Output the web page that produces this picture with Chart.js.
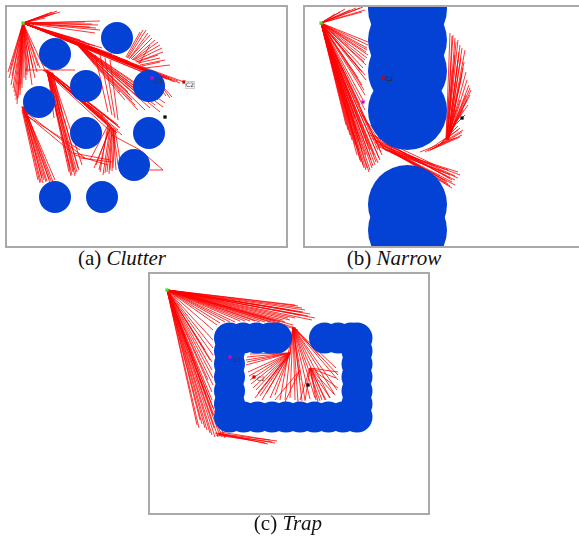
<!DOCTYPE html>
<html>
<head>
<meta charset="utf-8">
<script src="https://cdn.jsdelivr.net/npm/chart.js@4.4.0/dist/chart.umd.min.js"></script>
<style>
    body { margin: 0; width: 579px; height: 537px; overflow: hidden; background: #fff; position: relative; }
    .painel { position: absolute; border: 2px solid #a9a9a9; background: #fff; }
    .painel canvas { display: block; }
    .legenda { position: absolute; width: 200px; text-align: center; font-family: "Liberation Serif", serif; font-size: 21px; line-height: 21px; color: #111; }
    .rotulo { position: absolute; font-family: "DejaVu Sans", sans-serif; font-size: 6px; line-height: 6px; color: #333; }
</style>
</head>
<body>
<div class="painel" style="left:5px;top:5px;"><canvas id="graficoClutter" width="279" height="239"></canvas></div>
<div class="painel" style="left:303px;top:5px;"><canvas id="graficoNarrow" width="279" height="239"></canvas></div>
<div class="painel" style="left:148px;top:272px;"><canvas id="graficoTrap" width="278" height="239"></canvas></div>

<div class="legenda" style="left:22px;top:248px;">(a) <i>Clutter</i></div>
<div class="legenda" style="left:294px;top:248px;">(b) <i>Narrow</i></div>
<div class="legenda" style="left:188px;top:513px;">(c) <i>Trap</i></div>

<span class="rotulo" style="left:154px;top:78px;">C1</span>
<span class="rotulo" style="left:185px;top:81px;background:#f4f4f4;border:1px solid #ccc;">C2</span>
<span class="rotulo" style="left:385px;top:76px;color:#222;">C2</span>
<span class="rotulo" style="left:233px;top:357px;">C1</span>
<span class="rotulo" style="left:257px;top:376px;">C2</span>

<script>
// (a) Clutter - obstaculos, arvore e marcos (coordenadas da pagina)
const obstaculosClutter = [[117,38],[55,54],[86,86],[149,86],[39,102],[86,133],[149,133],[134,165],[55,197],[102,197]];
const inicioClutter = [23,23];
const folhasClutter = [
    [57,11],[55,13],[50,15],[45,18],[100,21],[98,25],[90,27],[100,30],[95,33],
    [52,12],[48,14],[60,12],[85,22],[92,24],[96,28],
    [8,72],[9,78],[11,85],[14,92],[16,100],[17,104],[20,95],[22,88],[26,80],[28,72],[32,85],[35,78],
    [10,70],[12,76],[13,88],[15,96],[18,98],[19,90],[21,84],[24,78],[27,75],[33,68],[38,66],
    [40,68],[45,70],[37,72],[30,70],
    [100,50],[110,55],[120,58],[130,62],[135,65],[140,68],[145,70],[150,72],[155,73],[160,75],
    [165,77],[170,78],[184,82],[175,82],[163,80],[157,78],[125,62],[115,58],[90,45],[80,40],
    [105,52],[112,54],[118,57],[122,60],[128,61],[132,64],[138,66],[143,69],[148,71],[153,74],
    [158,76],[162,78],[167,79],[172,80],[178,81],[180,83],[95,46],[85,42],[102,48]
];
const ramosClutter = [
    [128,58,146,30],[130,58,150,35],[132,60,155,40],[134,60,160,45],[136,62,163,52],[138,63,160,58],
    [126,57,140,32],[140,65,165,60],[145,68,170,65],
    [127,58,143,30],[129,59,148,33],[131,59,152,38],[133,60,158,42],[135,61,162,48],[137,62,158,55],
    [139,64,150,45],[142,66,160,62],
    [150,72,172,97],[152,73,170,98],[148,72,166,96],
    [75,42,163,107],[75,42,150,100],[75,42,140,95],[75,42,135,105],[75,42,130,95],[75,42,125,100],
    [75,42,120,92],[75,42,145,110],[75,42,160,112],
    [75,42,155,105],[75,42,142,100],[75,42,132,100],[75,42,128,92],[75,42,150,108],[75,42,158,100],
    [75,42,138,110],[78,44,165,103],[78,44,148,96],
    [100,55,112,115],[105,58,115,118],[95,55,108,112],[110,60,118,120],
    [45,70,110,125],[45,70,112,128],[45,70,115,132],[47,72,118,130],[45,70,108,121],[47,70,120,128],
    [50,72,118,125],[50,72,113,122],[43,70,105,118],[48,72,122,135],
    [45,70,106,122],[46,70,111,126],[46,71,114,130],[47,71,117,133],[48,71,119,127],[49,72,116,124],
    [44,70,103,116],[46,72,109,130],
    [25,70,75,70],
    [50,72,57,116],[52,72,60,114],[48,72,54,118],[53,73,62,112],
    [22,106,40,183],[23,106,43,183],[24,107,46,182],[24,108,50,183],[25,109,53,182],[25,110,55,180],
    [23,108,42,178],[22,110,38,180],
    [23,107,44,180],[24,107,47,181],[25,108,51,181],[24,109,49,179],[22,107,41,182],
    [23,112,75,155],[24,114,80,150],[23,110,85,158],
    [47,72,72,175],[48,72,75,176],[49,72,77,172],[50,73,79,170],[47,72,70,168],[52,74,82,165],
    [48,72,73,172],[49,73,76,174],[50,72,74,170],[51,73,78,168],[48,72,71,176],[47,71,69,172],
    [108,125,100,172],[110,127,103,175],[112,128,107,172],[113,128,110,170],[115,130,113,168],
    [110,128,96,165],[108,125,90,160],[113,128,118,165],[115,130,120,160],
    [109,126,99,170],[111,127,105,173],[112,128,109,174],[114,129,112,171],[111,127,94,168],[113,129,116,170],
    [73,153,110,160],[75,155,108,165],[80,158,112,162],
    [112,135,140,150],[140,150,163,170],[148,170,163,170]
];
const marcosClutter = [[23,23],[152,78],[184,82],[165,117]];

// (b) Narrow
const obstaculosNarrow = [[407.5,9],[407.5,40],[407.5,71],[407.5,110.5],[407.5,204.5],[407.5,230],[407.5,262]];
const inicioNarrow = [321,23];
const folhasNarrow = [
    [363,7],[360,8],[356,8],[350,10],[345,9],[340,12],[335,14],[362,12],[365,10],
    [368,45],[367,50],[368,55],[365,60],[366,65],[360,70],[365,75],[358,78],[362,85],[363,100],
    [360,105],[365,110],
    [368,42],[367,48],[366,52],[367,58],[364,62],[363,68],[362,72],[366,80],[364,90],[365,95],
    [360,160],[363,165],[366,170],[369,172],[372,168],[375,165],[378,163],[380,160],[382,155],
    [378,150],[370,150],[358,150],[355,145],[352,140],[360,140],[368,145],[374,155],[348,130],[356,130],
    [361,162],[364,168],[367,168],[370,170],[373,166],[376,162],[379,158],[381,152],[357,155],
    [362,150],[366,155],[371,160],[350,135],[354,138],[358,142],[346,125],[350,120],[355,118]
];
const ramosNarrow = [
    [362,115,385,150],[365,120,395,152],[360,110,380,148],
    [370,135,450,178],[372,138,455,176],[375,142,452,182],[378,145,445,180],[380,147,440,176],
    [382,148,458,172],[385,150,448,170],[388,150,430,172],[375,140,420,160],[372,135,435,165],
    [380,145,460,175],[390,152,455,185],[395,153,450,186],
    [368,132,452,180],[373,139,447,182],[376,141,455,180],[379,144,458,178],[383,148,450,175],
    [386,150,444,172],[392,152,452,188],[398,154,448,184],
    [430,150,462,135],[425,152,458,130],[420,152,455,138],[435,148,460,128],[440,145,462,132],
    [428,151,460,137],[432,149,463,130],[438,146,458,126],
    [446,140,450,33],[446,140,453,35],[447,140,455,38],[447,140,458,40],[448,140,460,45],
    [448,140,462,48],[448,140,465,50],[448,138,458,60],[449,138,463,68],[449,138,467,80],
    [450,135,470,88],[450,135,471,90],[449,136,466,95],[448,136,460,100],[447,138,456,110],
    [447,138,452,70],[447,138,455,55],[448,135,462,75],[449,132,468,105],[450,130,465,115],
    [447,139,452,36],[447,139,456,42],[448,139,459,52],[448,138,461,58],[449,137,464,62],
    [449,136,466,72],[450,134,469,85],[449,134,467,100],[448,137,463,110],[450,132,470,95]
];
const marcosNarrow = [[321,23],[363,102],[383,78],[462,118]];

// (c) Trap
const obstaculosTrap = [
    [229.5,338],[243,338],[256.5,338],[270,338],[276.5,338],
    [324.5,338],[338,338],[351,338],[357,338],
    [229.5,351],[229.5,364],[229.5,377],[229.5,391],[229.5,404],[229.5,417],
    [357,351],[357,364],[357,377],[357,391],[357,404],[357,417],
    [243.5,417],[257.5,417],[272,417],[286,417],[300,417],[314.5,417],[328.5,417],[343,417]
];
const inicioTrap = [167,290];
const folhasTrap = [
    [302,308],[305,310],[310,314],[315,318],[312,320],[300,315],[295,318],[290,320],[285,322],
    [280,322],[270,322],[260,322],[250,321],[240,321],[230,322],[220,323],[213,330],[295,305],
    [290,310],[293,325],[296,328],[298,330],
    [298,306],[303,312],[308,316],[300,312],[288,318],[283,320],[275,321],[265,322],[255,321],
    [245,321],[235,322],[225,322],[217,325],
    [197,425],[200,420],[205,428],[210,433],[215,437],[220,436],[225,438],[213,415],[212,400],
    [213,385],[212,370],[213,355],[213,340],[205,350],[208,380],[214,428],
    [199,428],[202,424],[207,430],[212,435],[218,437],[222,437],[213,408],[212,392],[213,378],
    [212,362],[213,348],[210,360],[206,395]
];
const ramosTrap = [
    [215,433,277,441],[218,434,275,443],[220,432,270,440],[222,435,265,443],[216,435,250,440],
    [217,434,272,442],[219,433,268,444],
    [293,327,298,402],[293,327,305,400],[293,327,315,398],[293,327,325,400],[293,327,335,395],
    [293,327,338,380],[293,327,336,368],[293,327,290,398],[293,327,280,400],[293,327,300,380],
    [293,327,302,401],[293,327,310,399],[293,327,320,401],[293,327,330,398],[293,327,337,390],
    [293,327,338,375],[293,327,285,400],[293,327,295,400],
    [293,327,290,353],[295,328,320,356],
    [290,353,247,357],[290,353,246,365],[290,353,248,372],[290,353,250,380],[290,353,253,388],
    [290,353,258,393],[290,353,265,385],[290,353,250,354],[290,353,255,398],[290,353,262,400],
    [290,353,270,398],[290,353,246,360],
    [290,353,247,362],[290,353,249,376],[290,353,251,384],[290,353,256,390],[290,353,260,396],
    [290,353,267,392],[290,353,275,395],
    [310,368,316,400],[310,368,322,400],[310,368,300,400],[310,368,338,372],[310,368,338,388],
    [310,368,330,398],[300,370,275,400],[300,370,285,402],
    [310,368,318,402],[310,368,326,400],[310,368,336,378],[310,368,305,401],[310,368,334,394]
];
const marcosTrap = [[167,290],[230,357],[254,377],[308,385]];

const corObstaculo = '#0342d4';
const corArvore = 'rgba(255,0,0,0.8)';
const coresMarcos = ['#46e02a', '#d000d0', '#d80000', '#000000'];

function montarSegmentos(inicio, folhas, ramos) {
    const segmentos = [];
    folhas.forEach(f => {
        segmentos.push({x: inicio[0], y: inicio[1]}, {x: f[0], y: f[1]}, {x: null, y: null});
    });
    ramos.forEach(r => {
        segmentos.push({x: r[0], y: r[1]}, {x: r[2], y: r[3]}, {x: null, y: null});
    });
    return segmentos;
}

function criarPainel(idCanvas, origem, obstaculos, raio, inicio, folhas, ramos, marcos) {
    const canvas = document.getElementById(idCanvas);
    const ctx = canvas.getContext('2d');
    return new Chart(ctx, {
        type: 'scatter',
        data: {
            datasets: [{
                type: 'scatter',
                data: marcos.map(m => ({x: m[0], y: m[1]})),
                pointStyle: 'rect',
                pointRadius: 2.3,
                backgroundColor: coresMarcos,
                borderWidth: 0,
                order: 0
            }, {
                type: 'bubble',
                data: obstaculos.map(o => ({x: o[0], y: o[1], r: raio})),
                backgroundColor: corObstaculo,
                borderWidth: 0,
                order: 1
            }, {
                type: 'scatter',
                data: montarSegmentos(inicio, folhas, ramos),
                showLine: true,
                spanGaps: false,
                borderColor: corArvore,
                borderWidth: 1,
                pointRadius: 0,
                order: 2
            }]
        },
        options: {
            responsive: false,
            animation: false,
            events: [],
            layout: { padding: 0, autoPadding: false },
            plugins: { legend: { display: false }, tooltip: { enabled: false } },
            scales: {
                x: { type: 'linear', display: false, min: origem[0], max: origem[0] + canvas.width },
                y: { type: 'linear', display: false, reverse: true, min: origem[1], max: origem[1] + canvas.height }
            }
        }
    });
}

criarPainel('graficoClutter', [7,7], obstaculosClutter, 16, inicioClutter, folhasClutter, ramosClutter, marcosClutter);
criarPainel('graficoNarrow', [305,7], obstaculosNarrow, 39.5, inicioNarrow, folhasNarrow, ramosNarrow, marcosNarrow);
criarPainel('graficoTrap', [150,274], obstaculosTrap, 15.5, inicioTrap, folhasTrap, ramosTrap, marcosTrap);
</script>
</body>
</html>
